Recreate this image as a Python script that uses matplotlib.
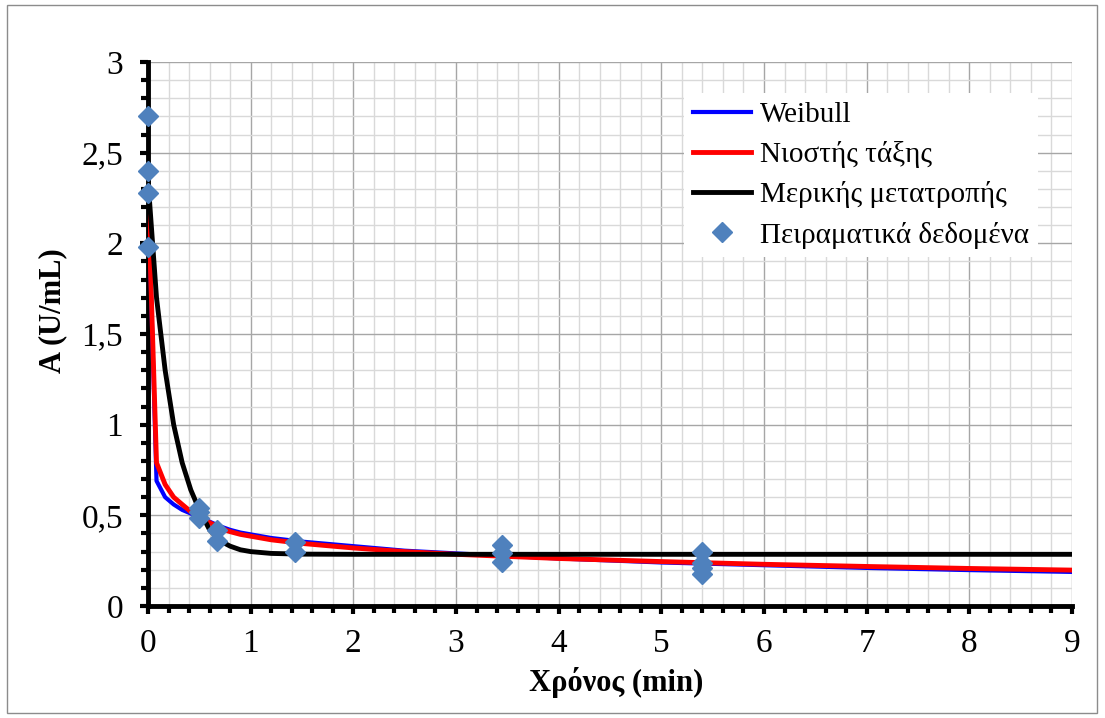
import matplotlib.pyplot as plt
import numpy as np
from matplotlib.ticker import MultipleLocator, FuncFormatter
from matplotlib.patches import Rectangle

plt.rcParams['font.family'] = ['Liberation Serif', 'DejaVu Serif']

# model curves
t = [0, 0.083, 0.167, 0.25, 0.333, 0.417, 0.5, 0.6, 0.7, 0.8, 0.9, 1.0,
     1.2, 1.5, 2, 2.5, 3, 4, 5, 6, 7, 8, 9]
weibull = [2.3, 0.69, 0.6, 0.56, 0.53, 0.51, 0.49, 0.465, 0.44, 0.42, 0.405, 0.395,
           0.375, 0.355, 0.33, 0.305, 0.29, 0.262, 0.24, 0.225, 0.21, 0.198, 0.188]
nth_order = [2.3, 0.79, 0.67, 0.6, 0.56, 0.52, 0.495, 0.46, 0.43, 0.41, 0.395, 0.385,
             0.365, 0.345, 0.32, 0.30, 0.285, 0.262, 0.245, 0.23, 0.218, 0.207, 0.198]
partial = [2.35, 1.7, 1.3, 1.0, 0.79, 0.64, 0.53, 0.42, 0.36, 0.33, 0.31, 0.30,
           0.29, 0.286, 0.285, 0.285, 0.285, 0.285, 0.285, 0.285, 0.285, 0.285, 0.285]

# experimental points
t_exp = [0, 0, 0, 0, 0.5, 0.5, 0.5, 0.67, 0.67, 1.43, 1.43,
         3.45, 3.45, 3.45, 5.4, 5.4, 5.4, 5.4]
a_exp = [2.70, 2.40, 2.28, 1.98, 0.54, 0.52, 0.485, 0.42, 0.36, 0.355, 0.30,
         0.335, 0.29, 0.243, 0.30, 0.235, 0.21, 0.175]

fig = plt.figure(figsize=(11.05, 7.18), dpi=100)
fig.patches.append(Rectangle((7 / 1105, 5 / 718), 1090 / 1105, 708 / 718,
                             transform=fig.transFigure, fill=False,
                             edgecolor='#8c8c8c', linewidth=1))
ax = fig.add_axes([148 / 1105, 1 - 606 / 718, 924 / 1105, 544 / 718])

ax.plot(t, weibull, color='#0000ff', lw=3, label='Weibull', zorder=3)
ax.plot(t, nth_order, color='#ff0000', lw=3.5, label='Νιοστής τάξης', zorder=4)
ax.plot(t, partial, color='black', lw=3.5, label='Μερικής μετατροπής', zorder=5)
ax.plot(t_exp, a_exp, 'D', color='#4f81bd', ms=10, lw=0,
        label='Πειραματικά δεδομένα', zorder=6, clip_on=False)

ax.set_xlim(0, 9)
ax.set_ylim(0, 3)
ax.xaxis.set_major_locator(MultipleLocator(1))
ax.xaxis.set_minor_locator(MultipleLocator(0.2))
ax.yaxis.set_major_locator(MultipleLocator(0.5))
ax.yaxis.set_minor_locator(MultipleLocator(0.1))
ax.yaxis.set_major_formatter(FuncFormatter(lambda v, p: ('%g' % v).replace('.', ',')))

ax.grid(which='major', color='#a6a6a6', lw=1)
ax.grid(which='minor', color='#d9d9d9', lw=1)
ax.set_axisbelow(True)

for s in ['top', 'right']:
    ax.spines[s].set_visible(False)
ax.spines['left'].set_linewidth(3.5)
ax.spines['bottom'].set_linewidth(3.5)
ax.tick_params(which='both', direction='out', length=5, width=3, labelsize=24)
ax.tick_params(which='major', length=6)
ax.tick_params(axis='x', which='major', pad=10)
ax.tick_params(axis='y', which='major', pad=12)

ax.set_xlabel('Χρόνος (min)', fontsize=22, fontweight='bold', va='center')
ax.xaxis.set_label_coords((616 - 148) / 924, (606 - 683) / 544)
ax.set_ylabel('A (U/mL)', fontsize=22, fontweight='bold', va='center')
ax.yaxis.set_label_coords((53 - 148) / 924, (606 - 311) / 544)

leg = ax.legend(loc='upper left', bbox_to_anchor=((684 - 148) / 924, (606 - 93) / 544),
                fontsize=21, frameon=True, fancybox=False, edgecolor='none',
                facecolor='white', framealpha=1, handlelength=2.0, handletextpad=0.3,
                borderpad=0.3, borderaxespad=0, labelspacing=0.45)

fig.savefig('out.png', dpi=100)
